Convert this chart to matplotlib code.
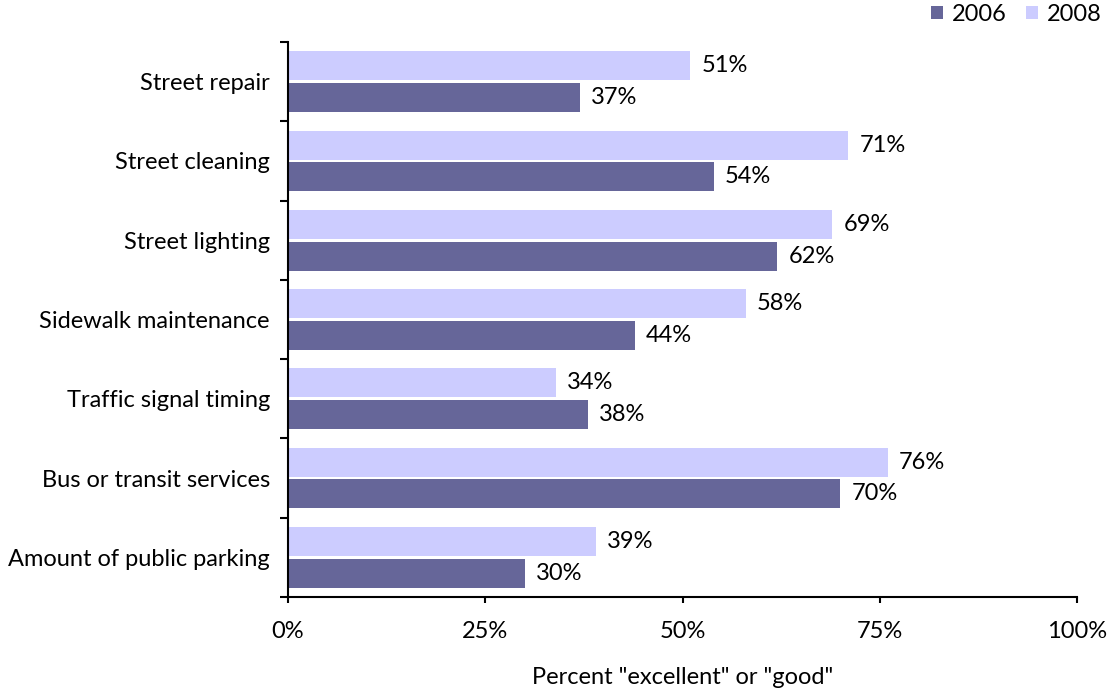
import matplotlib
matplotlib.use("Agg")
import matplotlib.pyplot as plt
import numpy as np

plt.rcParams['font.family'] = ['Lato', 'DejaVu Sans']

categories = ["Street repair", "Street cleaning", "Street lighting",
              "Sidewalk maintenance", "Traffic signal timing",
              "Bus or transit services", "Amount of public parking"]
vals_2006 = [37, 54, 62, 44, 38, 70, 30]
vals_2008 = [51, 71, 69, 58, 34, 76, 39]
xticks = [0, 25, 50, 75, 100]

c2006 = "#666699"
c2008 = "#CCCCFF"
fs = 17

fig = plt.figure(figsize=(11.10, 6.94), dpi=100)
ax = fig.add_axes([0.2595, 0.1398, 0.7108, 0.7997])

y = np.arange(len(categories))
h = 0.365
ax.barh(y - 0.2, vals_2008, height=h, color=c2008, label="2008")
ax.barh(y + 0.2, vals_2006, height=h, color=c2006, label="2006")

for yi, v in zip(y, vals_2008):
    ax.text(v + 1.4, yi - 0.2, f"{v}%", va="center", ha="left", fontsize=fs)
for yi, v in zip(y, vals_2006):
    ax.text(v + 1.4, yi + 0.2, f"{v}%", va="center", ha="left", fontsize=fs)

ax.set_ylim(len(categories) - 0.5, -0.5)
ax.set_xlim(0, 100)

# category labels centred, tick marks on the group boundaries
ax.set_yticks(y)
ax.set_yticklabels(categories, fontsize=fs)
ax.tick_params(axis="y", which="major", length=0, pad=13)
ax.set_yticks(np.arange(len(categories) + 1) - 0.5, minor=True)
ax.tick_params(axis="y", which="minor", length=6, width=1.5, direction="out")

ax.set_xticks(xticks)
ax.set_xticklabels([f"{t}%" for t in xticks], fontsize=fs)
ax.tick_params(axis="x", length=4.5, width=1.5, direction="out", pad=13)
ax.set_xlabel('Percent "excellent" or "good"', fontsize=fs, labelpad=18)

for s in ["top", "right"]:
    ax.spines[s].set_visible(False)
for s in ["left", "bottom"]:
    ax.spines[s].set_linewidth(1.5)

handles, labels = ax.get_legend_handles_labels()
fig.legend(handles[::-1], labels[::-1], loc="upper right",
           bbox_to_anchor=(1.012, 1.025), ncol=2, frameon=False, fontsize=fs,
           handlelength=0.5, handleheight=0.5, handletextpad=0.4,
           columnspacing=0.8)

fig.savefig("out.png", dpi=100, facecolor="white")
